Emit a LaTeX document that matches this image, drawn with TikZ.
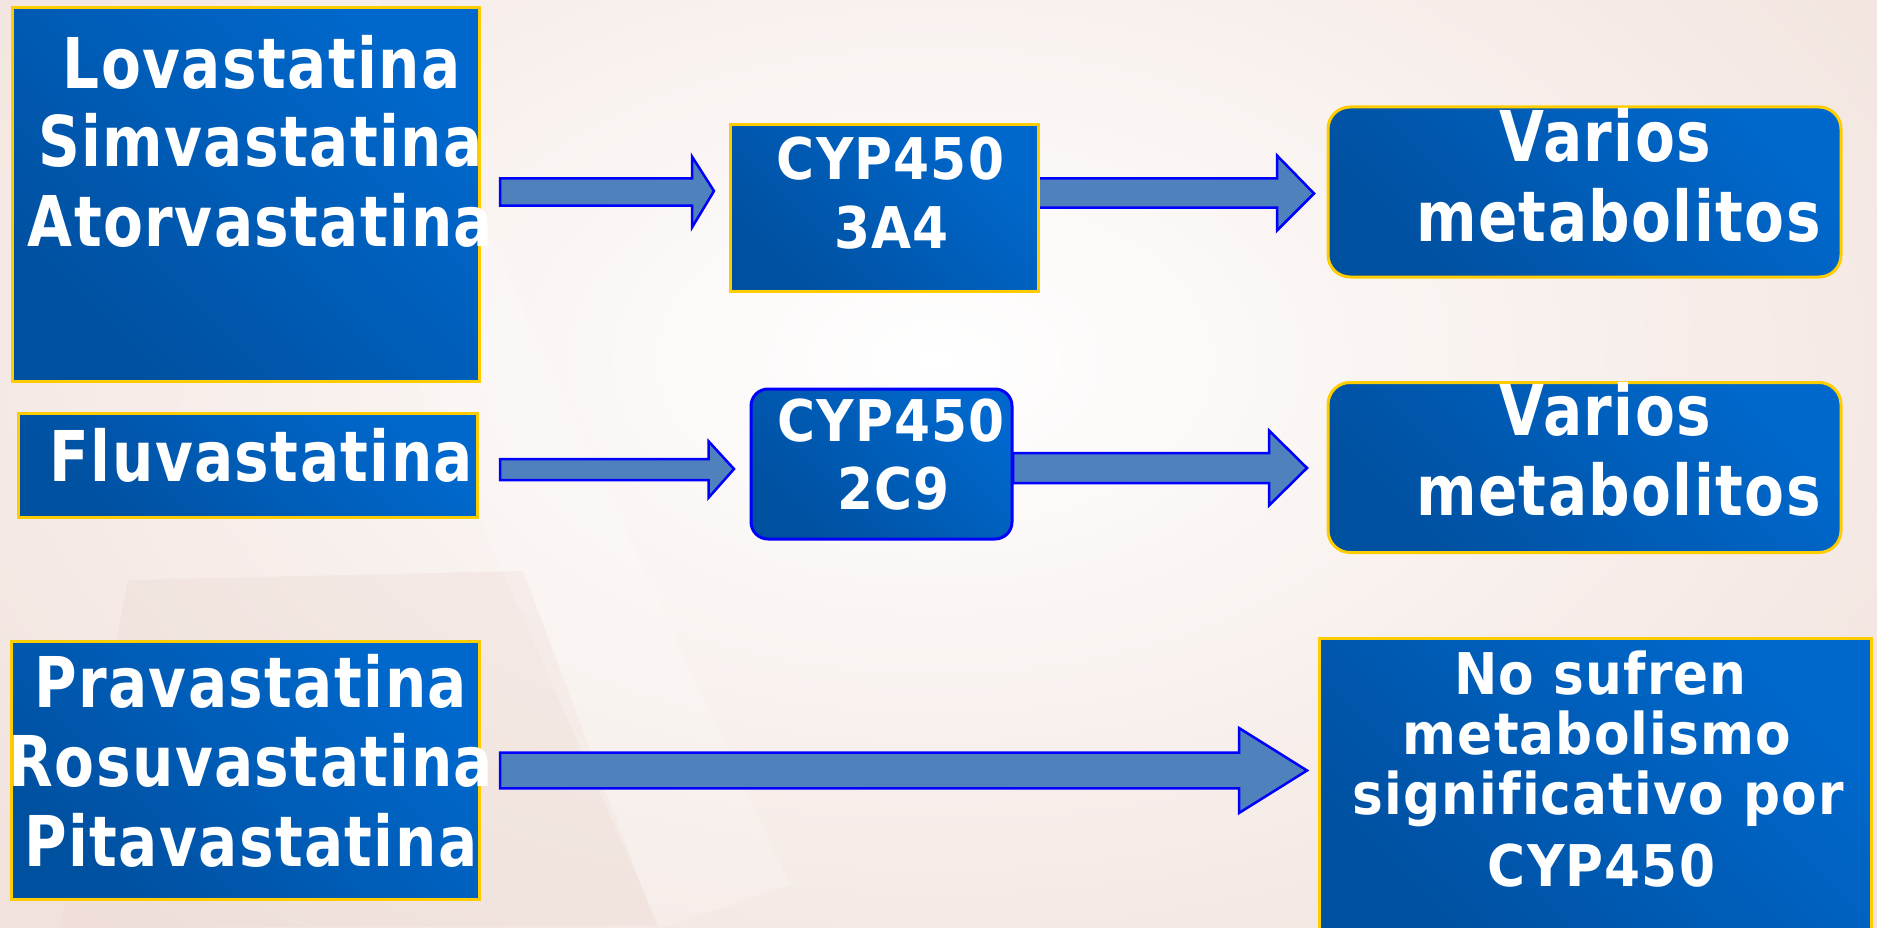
\documentclass[tikz,border=0pt]{standalone}
\usepackage{fontspec}
\setmainfont{DejaVu Sans}
\newfontfamily\fa{DejaVu Sans}[FakeStretch=0.83, LetterSpace=2, Ligatures=NoCommon]
\newfontfamily\fb{DejaVu Sans}[FakeStretch=0.90, LetterSpace=2, Ligatures=NoCommon]
\usetikzlibrary{calc}
\definecolor{boxlight}{RGB}{0,104,204}
\definecolor{boxdark}{RGB}{0,80,160}
\definecolor{ygold}{RGB}{255,204,0}
\definecolor{arrfill}{RGB}{79,129,189}
\definecolor{arrline}{RGB}{0,0,255}
\definecolor{bgpeach}{RGB}{241,226,220}
\definecolor{bgdark}{RGB}{236,218,211}
\tikzset{
  box/.style={draw=ygold, line width=3pt, top color=boxlight, bottom color=boxdark,
    shading angle=-45, inner sep=0pt, rectangle},
  bluebord/.style={draw=arrline},
  arrowsty/.style={fill=arrfill, draw=arrline, line width=2.5pt, line join=miter},
  bigtxt/.style={text=white, inner sep=0pt, anchor=base, font=\fa\bfseries\fontsize{70}{84}\selectfont},
  midtxt/.style={text=white, inner sep=0pt, anchor=base, font=\fb\bfseries\fontsize{57.5}{68}\selectfont},
}
\newcommand\blockarrow[5]{%
  \draw[arrowsty] let \p1=(#1), \p2=(#2) in
    (\x1,\y1+#3pt) -- (\x2-#5pt,\y1+#3pt) -- (\x2-#5pt,\y1+#4pt) -- (\x2,\y2)
    -- (\x2-#5pt,\y1-#4pt) -- (\x2-#5pt,\y1-#3pt) -- (\x1,\y1-#3pt) -- cycle;}
\begin{document}
\begin{tikzpicture}[x=1pt,y=-1pt]
\useasboundingbox (0,0) rectangle (1877,928);
% background
\fill[bgpeach] (0,0) rectangle (1877,928);
\shade[inner color=white, outer color=bgpeach] (935,360) ellipse (1250 and 760);
\fill[bgdark, opacity=0.35] (128,580) -- (523,571) -- (656,925) -- (60,928) -- cycle;
\fill[white, opacity=0.2] (250,0) -- (380,0) -- (790,885) -- (660,928) -- cycle;

% arrow end points
\coordinate (a1s) at (500,192);  \coordinate (a1e) at (714,191);
\coordinate (a2s) at (1038,193); \coordinate (a2e) at (1314,193.5);
\coordinate (a3s) at (500,469.5);\coordinate (a3e) at (734,469);
\coordinate (a4s) at (1013,468); \coordinate (a4e) at (1307,468);
\coordinate (a5s) at (500,770.5);\coordinate (a5e) at (1307,770.5);
\blockarrow{a1s}{a1e}{13.7}{35.5}{22}
\blockarrow{a2s}{a2e}{14.7}{37.5}{37}
\blockarrow{a3s}{a3e}{10.5}{28.3}{25.5}
\blockarrow{a4s}{a4e}{15}{37.5}{38}
\blockarrow{a5s}{a5e}{17.8}{42.5}{68}

% boxes
\node[box, minimum width=467pt, minimum height=374pt] (b1) at (245.5,194.5) {};
\node[box, minimum width=308pt, minimum height=166pt] (c1) at (884,208) {};
\node[box, rounded corners=22pt, minimum width=513pt, minimum height=170pt] (v1) at (1584.5,192) {};
\node[box, minimum width=459pt, minimum height=104pt] (b2) at (247.5,465.5) {};
\node[box, bluebord, rounded corners=17pt, minimum width=261pt, minimum height=150pt] (c2) at (881.5,464) {};
\node[box, rounded corners=22pt, minimum width=513pt, minimum height=170pt] (v2) at (1584.5,467.5) {};
\node[box, minimum width=468pt, minimum height=258pt] (b3) at (245,770) {};
\node[box, minimum width=552pt, minimum height=310pt] (n1) at (1595,793) {};

% texts
\node[bigtxt] (t1a) at (261.7,88.3) {Lovastatina};
\node[bigtxt] (t1b) at (260.3,166.7) {Simvastatina};
\node[bigtxt] (t1c) at (260.5,246.7) {Atorvastatina};
\node[midtxt] (tc1a) at (890.5,180) {CYP450};
\node[midtxt] (tc1b) at (891.5,248.3) {3A4};
\node[bigtxt] (tv1a) at (1605.5,161.7) {Varios};
\node[bigtxt] (tv1b) at (1618.4,241.7) {metabolitos};
\node[bigtxt] (t2) at (261.5,481.7) {Fluvastatina};
\node[midtxt] (tc2a) at (891,441.7) {CYP450};
\node[midtxt] (tc2b) at (893.5,509.3) {2C9};
\node[bigtxt] (tv2a) at (1605.5,435) {Varios};
\node[bigtxt] (tv2b) at (1618.4,515) {metabolitos};
\node[bigtxt] (t3a) at (250.7,707) {Pravastatina};
\node[bigtxt] (t3b) at (251,786) {Rosuvastatina};
\node[bigtxt] (t3c) at (250.7,866) {Pitavastatina};
\node[midtxt] (tn1) at (1600.5,694) {No sufren};
\node[midtxt] (tn2) at (1597,754) {metabolismo};
\node[midtxt] (tn3) at (1598,814) {significativo por};
\node[midtxt] (tn4) at (1601.5,886) {CYP450};
\end{tikzpicture}
\end{document}
